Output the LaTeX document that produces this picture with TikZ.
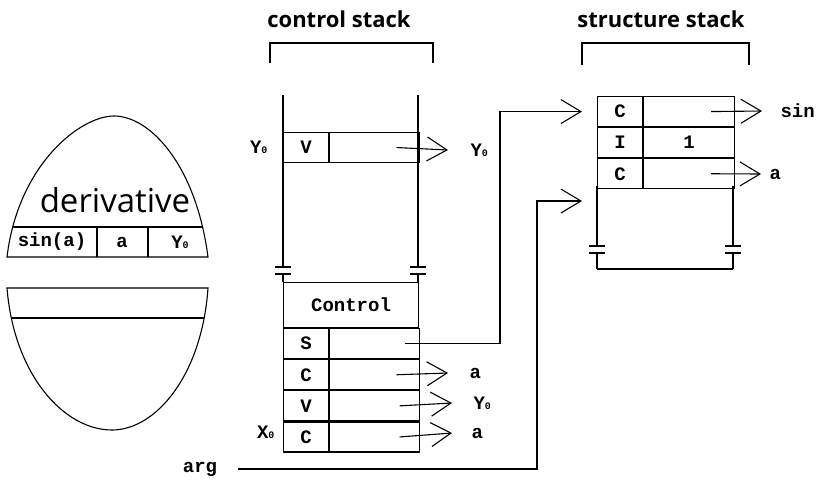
\documentclass[tikz,border=0pt]{standalone}
\usepackage{fontspec}
\setmainfont{Open Sans}
\setmonofont{Liberation Mono}
\usetikzlibrary{arrows.meta,positioning}

\newcommand{\subz}[1]{{\fontsize{10}{10}\selectfont #1}}

\begin{document}
\begin{tikzpicture}[x=1pt, y=-1pt, line width=1.1pt,
    tagcell/.style={draw, minimum width=45pt, minimum height=30pt, inner sep=0pt, anchor=north west, font=\ttfamily\bfseries\fontsize{19}{19}\selectfont},
    valcell/.style={tagcell, minimum width=90pt},
    lbl/.style={inner sep=0pt, font=\ttfamily\bfseries\fontsize{19}{19}\selectfont},
    title/.style={inner sep=0pt, anchor=base, font=\bfseries\fontsize{22}{22}\selectfont},
    ptr/.style={-{Straight Barb[length=20pt, width=24pt]}}
  ]
    \useasboundingbox (0,0) rectangle (822,483);

    % egg
    \draw (7,257) .. controls (18,165) and (80,116) .. (114,116) .. controls (150,116) and (196,165) .. (208,257) -- cycle;
    \begin{scope}
      \clip (7,257) .. controls (18,165) and (80,116) .. (114,116) .. controls (150,116) and (196,165) .. (208,257) -- cycle;
      \draw (0,227) -- (220,227) (97,227) -- (97,257) (148,227) -- (148,257);
    \end{scope}
    \draw (7,288) .. controls (14,375) and (64,430) .. (112,430) .. controls (156,430) and (202,375) .. (208,288) -- cycle;
    \begin{scope}
      \clip (7,288) .. controls (14,375) and (64,430) .. (112,430) .. controls (156,430) and (202,375) .. (208,288) -- cycle;
      \draw (0,318) -- (220,318);
    \end{scope}
    \node[inner sep=0pt, anchor=base, font=\fontsize{33}{33}\selectfont] (deriv) at (115,212) {derivative};
    \node[lbl] (esin) at (52,242) {sin(a)};
    \node[lbl] (ea) at (122,242) {a};
    \node[lbl] (ey) at (180,242) {Y\subz{0}};

    % control stack
    \node[title] (ctitle) at (339,27) {control stack};
    \draw (270,63) -- (270,43) -- (433,43) -- (433,63);
    \foreach \x in {283,418} {
      \draw (\x,95) -- (\x,267) (\x-8,267) -- (\x+8,267) (\x-8,274) -- (\x+8,274) (\x,274) -- (\x,282);
    }
    \node[tagcell] (vtag) at (283,132) {V};
    \node[valcell] (vval) at (vtag.north east) {};
    \node[lbl, anchor=east] (ylft) at (268,147) {Y\subz{0}};
    \node[lbl, anchor=west] (yrgt) at (470,150) {Y\subz{0}};
    \draw[ptr] ([xshift=22pt]vval.center) -- ([xshift=-22pt]yrgt.west);

    \node[tagcell, minimum width=135pt, minimum height=45pt] (ctl) at (283,282) {Control};
    \node[tagcell] (stag) at (ctl.south west) {S};
    \node[valcell] (sval) at (stag.north east) {};
    \node[tagcell] (c1tag) at (stag.south west) {C};
    \node[valcell] (c1val) at (c1tag.north east) {};
    \node[tagcell] (v2tag) at (c1tag.south west) {V};
    \node[valcell] (v2val) at (v2tag.north east) {};
    \node[tagcell] (c2tag) at (v2tag.south west) {C};
    \node[valcell] (c2val) at (c2tag.north east) {};
    \node[lbl, anchor=east] (xlft) at (275,432) {X\subz{0}};
    \node[lbl, anchor=west] (c1a) at (469,373) {a};
    \node[lbl, anchor=west] (v2y) at (473,403) {Y\subz{0}};
    \node[lbl, anchor=west] (c2a) at (471,433) {a};
    \draw[ptr] ([xshift=22pt]c1val.center) -- ([xshift=-21pt]c1a.west);
    \draw[ptr] ([xshift=25pt]v2val.center) -- ([xshift=-21pt]v2y.west);
    \draw[ptr] ([xshift=25pt]c2val.center) -- ([xshift=-19pt]c2a.west);

    % structure stack
    \node[title] (stitle) at (661,27) {structure stack};
    \draw (582,65) -- (582,43) -- (749,43) -- (749,65);
    \node[tagcell] (s1tag) at (597,96) {C};
    \node[valcell, minimum width=91pt] (s1val) at (s1tag.north east) {};
    \node[tagcell] (s2tag) at (s1tag.south west) {I};
    \node[valcell, minimum width=91pt] (s2val) at (s2tag.north east) {1};
    \node[tagcell] (s3tag) at (s2tag.south west) {C};
    \node[valcell, minimum width=91pt] (s3val) at (s3tag.north east) {};
    \foreach \x in {597,733} {
      \draw (\x,186) -- (\x,246) (\x-8,246) -- (\x+8,246) (\x-8,253) -- (\x+8,253) (\x,253) -- (\x,269);
    }
    \draw (597,269) -- (733,269);
    \node[lbl, anchor=west] (ssin) at (780,111) {sin};
    \node[lbl, anchor=west] (sa) at (769,174) {a};
    \draw[ptr] ([xshift=22pt]s1val.center) -- ([xshift=-18pt]ssin.west);
    \draw[ptr] ([xshift=22pt]s3val.center) -- ([xshift=-8pt]sa.west);

    % links into the structure stack
    \coordinate (sin1) at ([xshift=-15pt]s1tag.west);
    \coordinate (sin2) at (582,201);
    \draw[ptr] ([xshift=30pt]sval.center) -| ([xshift=-82pt]sin1) -- (sin1);
    \node[lbl] (arg) at (200,469) {arg};
    \draw[ptr] ([xshift=20pt]arg.east) -| ([xshift=-45pt]sin2) -- (sin2);
  \end{tikzpicture}
\end{document}
